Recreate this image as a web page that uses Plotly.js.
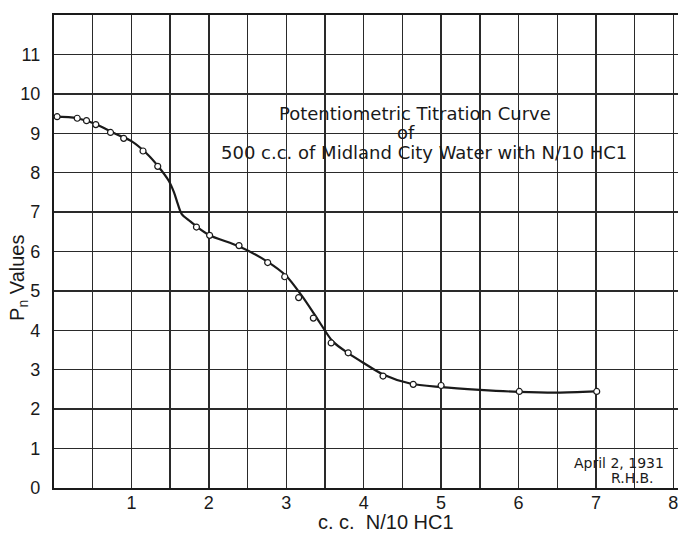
<!DOCTYPE html>
<html>
<head>
<meta charset="utf-8">
<script src="https://cdn.plot.ly/plotly-3.0.1.min.js"></script>
<style>html,body{margin:0;padding:0;background:#fff;}#chart{width:678px;height:534px;}</style>
</head>
<body>
<div id="chart"></div>
<script>
// Measured points (c.c. N/10 HCl vs Pn)
const pointsX = [0.04, 0.30, 0.42, 0.54, 0.73, 0.90, 1.15, 1.34, 1.84, 2.01, 2.39, 2.76, 2.98, 3.16, 3.35, 3.58, 3.80, 4.25, 4.64, 5.00, 6.01, 7.01];
const pointsY = [9.42, 9.38, 9.32, 9.22, 9.02, 8.87, 8.55, 8.16, 6.62, 6.41, 6.15, 5.72, 5.36, 4.83, 4.31, 3.68, 3.43, 2.84, 2.63, 2.60, 2.45, 2.45];

// Hand-drawn smooth curve
const curveX = [0, 0.3, 0.55, 0.8, 1.0, 1.2, 1.35, 1.48, 1.55, 1.6, 1.65, 1.75, 1.85, 2.0, 2.4, 2.75, 3.0, 3.2, 3.4, 3.6, 3.8, 4.0, 4.25, 4.6, 5.0, 5.5, 6.0, 6.5, 7.0];
const curveY = [9.42, 9.38, 9.22, 8.98, 8.8, 8.48, 8.15, 7.8, 7.5, 7.2, 6.95, 6.78, 6.62, 6.42, 6.12, 5.75, 5.38, 4.88, 4.3, 3.72, 3.42, 3.17, 2.88, 2.65, 2.56, 2.49, 2.44, 2.42, 2.45];

// Tick labels
const xTickVals = [0, 0.5, 1, 1.5, 2, 2.5, 3, 3.5, 4, 4.5, 5, 5.5, 6, 6.5, 7, 7.5, 8];
const xTickText = ['', '', '1', '', '2', '', '3', '', '4', '', '5', '', '6', '', '7', '', '8'];
const yTickVals = [0, 1, 2, 3, 4, 5, 6, 7, 8, 9, 10, 11];
const yTickText = ['0', '1', '2', '3', '4', '5', '6', '7', '8', '9', '10', '11'];

const titleLines = ['Potentiometric Titration Curve', 'of', '500 c.c. of Midland City Water with N/10 HC1'];
const xTitle = 'c. c.  N/10 HC1';
const yTitle = 'P<sub>n</sub> Values';
const stamp = ['April 2, 1931', 'R.H.B.'];

const ink = '#1a1a1a';
const font = 'Liberation Sans, Arial, sans-serif';
const wide = 'DejaVu Sans, sans-serif';

const traces = [
  {x: curveX, y: curveY, mode: 'lines', type: 'scatter',
   line: {color: ink, width: 2.2, shape: 'spline', smoothing: 0.8}, hoverinfo: 'skip', showlegend: false},
  {x: pointsX, y: pointsY, mode: 'markers', type: 'scatter',
   marker: {symbol: 'circle', size: 6, color: '#fff', line: {color: ink, width: 1.2}}, showlegend: false}
];

const layout = {
  width: 678, height: 534,
  margin: {l: 54, r: 0, t: 15, b: 46},
  paper_bgcolor: '#fff', plot_bgcolor: '#fff',
  font: {family: font, color: ink, size: 18},
  showlegend: false,
  xaxis: {
    range: [0, 8.06], tickvals: xTickVals, ticktext: xTickText,
    showgrid: true, gridcolor: '#2a2a2a', gridwidth: 1.4,
    showline: true, linecolor: ink, linewidth: 2.2, mirror: true,
    zeroline: false, ticks: '', ticklabelstandoff: -3, ticklabeloverflow: 'allow',
    tickfont: {size: 18, family: font, color: ink}
  },
  yaxis: {
    range: [0, 12], tickvals: yTickVals, ticktext: yTickText,
    showgrid: true, gridcolor: '#2a2a2a', gridwidth: 1.4,
    showline: true, linecolor: ink, linewidth: 2.2, mirror: true,
    zeroline: false, ticks: '', ticklabelstandoff: 8,
    tickfont: {size: 18, family: font, color: ink}
  },
  annotations: [
    {text: titleLines[0], xref: 'x', yref: 'y', x: 4.66, y: 9.5, showarrow: false, font: {size: 18, family: wide, color: ink}},
    {text: titleLines[1], xref: 'x', yref: 'y', x: 4.55, y: 9.03, showarrow: false, font: {size: 18, family: wide, color: ink}},
    {text: titleLines[2], xref: 'x', yref: 'y', x: 4.78, y: 8.5, showarrow: false, font: {size: 18, family: wide, color: ink}},
    {text: xTitle, xref: 'x', yref: 'paper', x: 4.29, y: 0, yanchor: 'middle', xanchor: 'center', yshift: -34, showarrow: false, font: {size: 20, family: font, color: ink}},
    {text: yTitle, xref: 'paper', yref: 'y', x: 0, xanchor: 'center', yanchor: 'middle', xshift: -35, y: 5.33, textangle: -90, showarrow: false, font: {size: 20, family: font, color: ink}},
    {text: stamp[0], xref: 'x', yref: 'y', x: 7.3, y: 0.63, showarrow: false, font: {size: 14, family: wide, color: ink}},
    {text: stamp[1], xref: 'x', yref: 'y', x: 7.47, y: 0.26, showarrow: false, font: {size: 14, family: wide, color: ink}}
  ]
};

Plotly.newPlot('chart', traces, layout, {staticPlot: true, displayModeBar: false});
</script>
</body>
</html>
